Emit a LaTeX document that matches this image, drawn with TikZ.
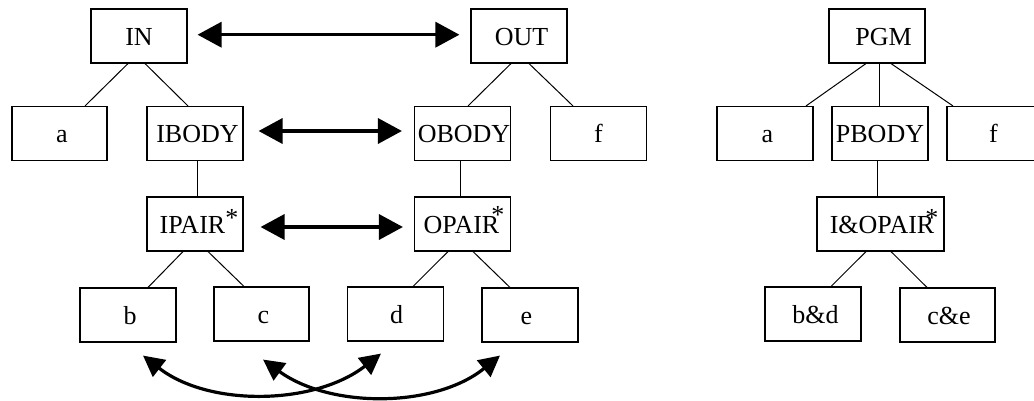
\documentclass[tikz,border=0pt]{standalone}
\usepackage{fontspec}
\setmainfont{Liberation Serif}
\usetikzlibrary{arrows.meta}
\begin{document}
\begin{tikzpicture}[x=1pt,y=1pt,
  box/.style={draw, line width=1.1pt, minimum width=96pt, minimum height=54pt, inner sep=0pt,
    text height=18pt, text depth=0pt, font=\fontsize{26}{30}\selectfont},
  tree/.style={line width=1pt},
  bigarrow/.style={line width=3.5pt, {Triangle[length=24pt,width=25pt]}-{Triangle[length=24pt,width=25pt]}},
  curvearrow/.style={line width=3.2pt, {Triangle[length=21pt,width=21pt]}-{Triangle[length=21pt,width=21pt]}}]
\useasboundingbox (0,0) rectangle (1034,-400);
% left trees
\node[box] (IN) at (139,-36) {IN};
\node[box] (OUT) at (519,-36) {\hspace*{5pt}OUT};
\node[box, minimum width=95pt] (a1) at (59.5,-133.5) {\hspace*{5pt}a};
\node[box] (IBODY) at (195,-133.5) {\hspace*{5pt}IBODY};
\node[box] (OBODY) at (462.5,-133.5) {\hspace*{3pt}OBODY};
\node[box] (f1) at (598.5,-133.5) {f};
\node[box] (IPAIR) at (195,-224) {\hspace*{-5pt}IPAIR\rlap{\raisebox{7pt}{*}}};
\node[box] (OPAIR) at (462.5,-224) {\hspace*{-2pt}OPAIR\rlap{\hspace{-8pt}\raisebox{10pt}{*}}};
\node[box] (b) at (128,-315) {\hspace*{4pt}b};
\node[box, minimum width=95pt] (c) at (261.5,-314) {\hspace*{4pt}c};
\node[box] (d) at (395.5,-314) {\hspace*{2pt}d};
\node[box] (e) at (530,-315) {\hspace*{-7pt}e};
% right tree
\node[box] (PGM) at (877,-36) {\hspace*{13pt}PGM};
\node[box] (a2) at (765,-133.5) {\hspace*{5pt}a};
\node[box] (PBODY) at (880,-133.5) {PBODY};
\node[box, minimum width=93pt] (f2) at (993.5,-133.5) {f};
\node[box, minimum width=127pt] (IOPAIR) at (880.5,-224) {\hspace*{3pt}I\&OPAIR\rlap{\hspace{-9pt}\raisebox{7pt}{*}}};
\node[box] (bd) at (813,-314) {\hspace*{5pt}b\&d};
\node[box, minimum width=95pt] (ce) at (947.5,-315) {\hspace*{3pt}c\&e};
% tree edges
\draw[tree] ([xshift=-11pt]IN.south) -- ([xshift=25.5pt]a1.north);
\draw[tree] ([xshift=6pt]IN.south) -- ([xshift=-7pt]IBODY.north);
\draw[tree] ([xshift=-8pt]OUT.south) -- ([xshift=5.5pt]OBODY.north);
\draw[tree] ([xshift=10pt]OUT.south) -- ([xshift=-25.5pt]f1.north);
\draw[tree] ([xshift=2pt]IBODY.south) -- ([xshift=2pt]IPAIR.north);
\draw[tree] ([xshift=-2.5pt]OBODY.south) -- ([xshift=-2.5pt]OPAIR.north);
\draw[tree] ([xshift=-12pt]IPAIR.south) -- ([xshift=20pt]b.north);
\draw[tree] ([xshift=13pt]IPAIR.south) -- ([xshift=-17.5pt]c.north);
\draw[tree] ([xshift=-14.5pt]OPAIR.south) -- ([xshift=17.5pt]d.north);
\draw[tree] ([xshift=10.5pt]OPAIR.south) -- ([xshift=-20pt]e.north);
\draw[tree] ([xshift=-11pt]PGM.south) -- ([xshift=41pt]a2.north);
\draw[tree] ([xshift=2pt]PGM.south) -- ([xshift=-1pt]PBODY.north);
\draw[tree] ([xshift=14pt]PGM.south) -- ([xshift=-40.5pt]f2.north);
\draw[tree] ([xshift=-3pt]PBODY.south) -- ([xshift=-3.5pt]IOPAIR.north);
\draw[tree] ([xshift=-14.5pt]IOPAIR.south) -- ([xshift=18pt]bd.north);
\draw[tree] ([xshift=10.5pt]IOPAIR.south) -- ([xshift=-20.5pt]ce.north);
% correspondence arrows
\draw[bigarrow] ([xshift=10pt,yshift=1.3pt]IN.east) -- ([xshift=-11pt,yshift=1.3pt]OUT.west);
\draw[bigarrow] ([xshift=15pt,yshift=2.5pt]IBODY.east) -- ([xshift=-12pt,yshift=2.5pt]OBODY.west);
\draw[bigarrow] ([xshift=17pt,yshift=-3pt]IPAIR.east) -- ([xshift=-11pt,yshift=-3pt]OPAIR.west);
\draw[curvearrow] ([shift={(15,-13)}]b.south) to[out=-38,in=-142,looseness=0.9] ([shift={(-14.5,-12)}]d.south);
\draw[curvearrow] ([shift={(1.5,-18)}]c.south) to[out=-36,in=-141,looseness=0.9] ([shift={(-30,-13)}]e.south);
\end{tikzpicture}
\end{document}
